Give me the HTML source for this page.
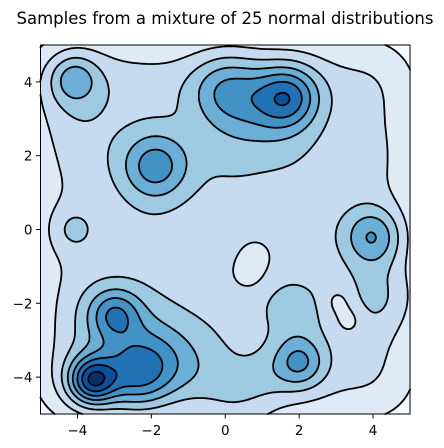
<!DOCTYPE html>
<html><head><meta charset="utf-8"><style>
body{margin:0;background:#fff;width:444px;height:448px;overflow:hidden;font-family:"DejaVu Sans","Liberation Sans",sans-serif}
#wrap{position:relative;width:444px;height:448px}
canvas{position:absolute}
svg{position:absolute;left:0;top:0}
</style></head><body>
<div id="wrap">
<canvas id="cv" width="370" height="369" style="left:40.5px;top:45px"></canvas>
<svg id="sv" width="444" height="448">
<text x="225" y="24" text-anchor="middle" font-size="16.5" fill="#000">Samples from a mixture of 25 normal distributions</text>
</svg>
</div>
<script>
// grid centers of the 25 mixture components (floor)
const gridX = [-4,-2,0,2,4];
const gridY = [-4,-2,0,2,4];
const gridW = 1.6;
// peak bumps: x, y, height, sigma
const peakX = [-4.1,-4.2,-1.9,1.7,0.0,1.0,4.0,4.3,-4.2,-3.6,-2.4,-3.0,-3.0,-2.0,2.0,1.8,1.0,-1.0,0.3,0.5,0.8,0.6,3.05,3.35];
const peakY = [4.1,3.7,1.7,3.6,3.8,3.3,-0.2,-1.8,0.0,-4.1,-4.0,-2.3,-3.3,-3.4,-3.6,-2.2,-4.0,-3.7,-5.0,2.5,-0.7,-1.2,-1.95,-2.45];
const peakH = [2.0,0.9,3.0,3.5,2.2,1.2,2.7,1.0,1.0,5.0,2.5,3.0,0.9,1.4,2.8,0.9,0.6,1.0,1.2,0.6,-0.9,-0.9,-0.9,-0.9];
const peakS = [0.45,1.0,0.65,0.6,0.7,0.8,0.55,0.7,0.45,0.45,0.65,0.5,1.1,0.8,0.5,0.6,0.5,0.8,0.8,1.2,0.33,0.33,0.28,0.28];
const levels = [1,2,3,4,5,6,7,8];
const bandColors = ["#f7fbff","#deebf7","#c6dbef","#9ecae1","#6baed6","#4292c6","#2171b5","#08519c","#08306b"];
const ticks = [-4,-2,0,2,4];

const X0=40.5, W=369.5, Y0=45, H=369;
const sx = v => X0 + (v+5)/10*W;
const sy = v => Y0 + (5-v)/10*H;
function f(x,y){
  let s=0;
  for(const gx of gridX) for(const gy of gridY){const d=(x-gx)**2+(y-gy)**2; s+=gridW*Math.exp(-d/2);}
  for(let i=0;i<peakX.length;i++){const d=(x-peakX[i])**2+(y-peakY[i])**2; s+=peakH[i]*Math.exp(-d/(2*peakS[i]*peakS[i]));}
  return s;
}
function band(v){let b=0;for(const l of levels) if(v>=l) b++; return b;}
function hex(c){return [parseInt(c.slice(1,3),16),parseInt(c.slice(3,5),16),parseInt(c.slice(5,7),16)];}
const cv=document.getElementById('cv'),ctx=cv.getContext('2d');
const img=ctx.createImageData(370,369);
const rgb=bandColors.map(hex);
for(let py=0;py<369;py++)for(let px=0;px<370;px++){
  const x=-5+(px+0.5)/W*10, y=5-(py+0.5)/H*10;
  const c=rgb[band(f(x,y))]; const k=(py*370+px)*4;
  img.data[k]=c[0];img.data[k+1]=c[1];img.data[k+2]=c[2];img.data[k+3]=255;
}
ctx.putImageData(img,0,0);
const NS='http://www.w3.org/2000/svg', sv=document.getElementById('sv');
const N=185, vals=[];
for(let j=0;j<=N;j++){vals.push([]);for(let i=0;i<=N;i++){vals[j].push(f(-5+i/N*10,5-j/N*10));}}
for(const L of levels){
  let d='';
  for(let j=0;j<N;j++)for(let i=0;i<N;i++){
    const a=vals[j][i],b=vals[j][i+1],c=vals[j+1][i+1],e=vals[j+1][i];
    const pts=[];
    const gx=i2=>-5+i2/N*10, gy=j2=>5-j2/N*10;
    if((a>=L)!==(b>=L)) pts.push([gx(i+(L-a)/(b-a)),gy(j)]);
    if((b>=L)!==(c>=L)) pts.push([gx(i+1),gy(j+(L-b)/(c-b))]);
    if((e>=L)!==(c>=L)) pts.push([gx(i+(L-e)/(c-e)),gy(j+1)]);
    if((a>=L)!==(e>=L)) pts.push([gx(i),gy(j+(L-a)/(e-a))]);
    for(let k=0;k+1<pts.length;k+=2) d+=`M${sx(pts[k][0]).toFixed(1)},${sy(pts[k][1]).toFixed(1)}L${sx(pts[k+1][0]).toFixed(1)},${sy(pts[k+1][1]).toFixed(1)}`;
  }
  const p=document.createElementNS(NS,'path');
  p.setAttribute('d',d);p.setAttribute('stroke','#000');p.setAttribute('stroke-width','1.8');p.setAttribute('fill','none');p.setAttribute('stroke-linecap','round');
  
  
  sv.appendChild(p);
}
const fr=document.createElementNS(NS,'rect');
fr.setAttribute('x',X0);fr.setAttribute('y',Y0);fr.setAttribute('width',W);fr.setAttribute('height',H);fr.setAttribute('fill','none');fr.setAttribute('stroke','#000');fr.setAttribute('stroke-width','1');


sv.appendChild(fr);
for(const t of ticks){
  const lx=document.createElementNS(NS,'line');
  lx.setAttribute('x1',sx(t));lx.setAttribute('x2',sx(t));lx.setAttribute('y1',Y0+H);lx.setAttribute('y2',Y0+H+4.5);lx.setAttribute('stroke','#000');
  
  
  sv.appendChild(lx);
  const tx=document.createElementNS(NS,'text');
  tx.setAttribute('x',sx(t));tx.setAttribute('y',Y0+H+21);tx.setAttribute('text-anchor','middle');tx.setAttribute('font-size','13.5');
  tx.textContent=(t<0?'\u2212'+(-t):t);
  
  
  sv.appendChild(tx);
  const ly=document.createElementNS(NS,'line');
  ly.setAttribute('x1',X0-4.5);ly.setAttribute('x2',X0);ly.setAttribute('y1',sy(t));ly.setAttribute('y2',sy(t));ly.setAttribute('stroke','#000');
  
  
  sv.appendChild(ly);
  const ty=document.createElementNS(NS,'text');
  ty.setAttribute('x',X0-8);ty.setAttribute('y',sy(t)+5);ty.setAttribute('text-anchor','end');ty.setAttribute('font-size','13.5');
  ty.textContent=(t<0?'\u2212'+(-t):t);
  
  
  sv.appendChild(ty);
}
</script>
</body></html>
